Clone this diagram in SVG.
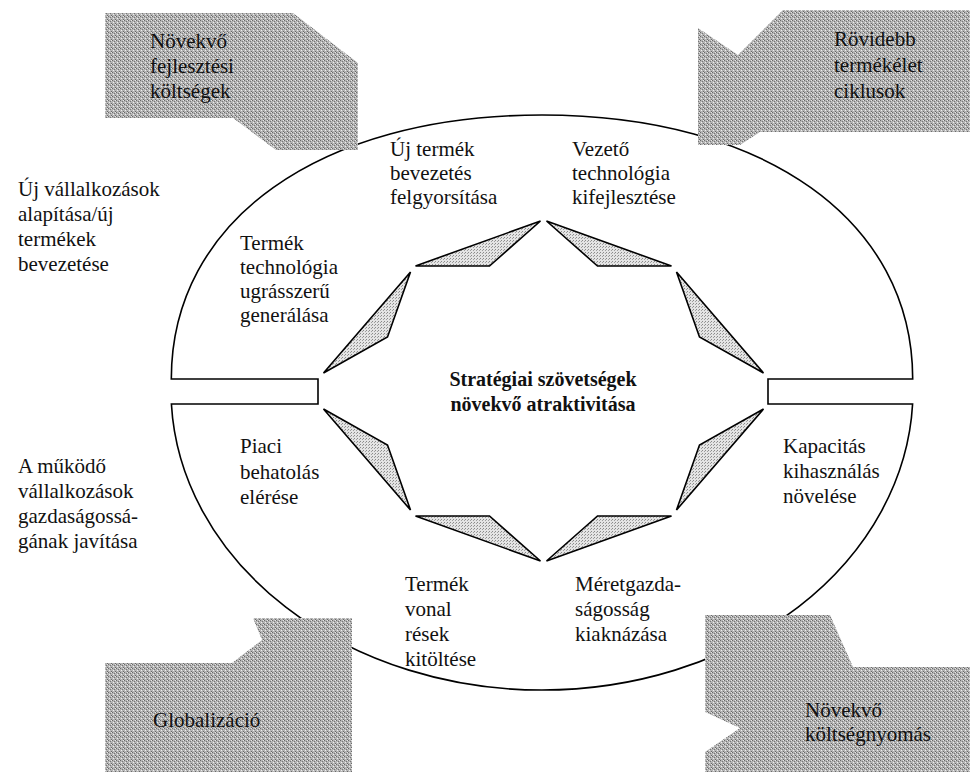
<svg xmlns="http://www.w3.org/2000/svg" width="970" height="772" viewBox="0 0 970 772">
<defs>
<pattern id="dark" width="4" height="4" patternUnits="userSpaceOnUse">
<rect width="4" height="4" fill="#b5b5b5"/>
<rect x="0" y="0" width="1" height="1" fill="#6a6a6a"/>
<rect x="2" y="1" width="1" height="1" fill="#767676"/>
<rect x="1" y="2" width="1" height="1" fill="#eeeeee"/>
<rect x="3" y="3" width="1" height="1" fill="#6a6a6a"/>
<rect x="3" y="0" width="1" height="1" fill="#e6e6e6"/>
</pattern>
<pattern id="light" width="3" height="3" patternUnits="userSpaceOnUse">
<rect width="3" height="3" fill="#e4e4e4"/>
<rect x="0" y="0" width="1" height="1" fill="#8a8a8a"/>
<rect x="2" y="1" width="1" height="1" fill="#a0a0a0"/>
</pattern>
</defs>
<style>
text{font-family:"Liberation Serif","DejaVu Serif","Times New Roman",serif;font-size:21px;fill:#111}
.b{font-weight:bold;font-size:20px;text-anchor:middle}
.corner{fill:url(#dark);stroke:none}
.kite{fill:url(#light);stroke:#000;stroke-width:1.6;stroke-linejoin:miter}
.ring{fill:none;stroke:#000;stroke-width:1.6}
</style>
<g id="connectors">
<path class="ring" d="M318,379 L171.3,379 C171.3,220.6 319.4,115 542,115 C764.6,115 912.7,220.6 912.7,379 L768,379 L768,404 L912.6,404 A371,300 0 0 1 171.4,404 L318,404 Z"/>
</g>
<g id="star">
<polygon class="kite" points="415.5,266 540.5,221 489.5,266"/>
<polygon class="kite" points="671.5,266 546.5,221 597.5,266"/>
<polygon class="kite" points="676.5,272 763.5,373 699.5,337"/>
<polygon class="kite" points="676.5,510 763.5,409 699.5,445"/>
<polygon class="kite" points="671.5,516 546.5,561 597.5,516"/>
<polygon class="kite" points="415.5,516 540.5,561 489.5,516"/>
<polygon class="kite" points="410.5,510 323.5,409 387.5,445"/>
<polygon class="kite" points="410.5,272 323.5,373 387.5,337"/>
</g>
<g id="tl">
<polygon class="corner" points="105,13 293,13 358,63 358,150 276,150 233,118 105,118"/>
<text x="150" y="48">Növekvő</text>
<text x="150" y="73">fejlesztési</text>
<text x="150" y="98">költségek</text>
</g>
<g id="tr">
<polygon class="corner" points="783,10 970,10 970,132 760,132 740,145 698,145 698,28 738,55"/>
<text x="834" y="46">Rövidebb</text>
<text x="834" y="72">termékélet</text>
<text x="834" y="98">ciklusok</text>
</g>
<g id="bl">
<polygon class="corner" points="105,772 105,663 232,663 262,640 253,618 352,618 352,772"/>
<text x="153" y="727">Globalizáció</text>
</g>
<g id="br">
<polygon class="corner" points="705,615 830,615 853,667 970,667 970,772 705,772 705,752 740,728 705,712"/>
<text x="805" y="717">Növekvő</text>
<text x="805" y="741">költségnyomás</text>
</g>
<g id="left-top">
<text x="18" y="196">Új vállalkozások</text>
<text x="18" y="221">alapítása/új</text>
<text x="18" y="246">termékek</text>
<text x="18" y="271">bevezetése</text>
</g>
<g id="left-bottom">
<text x="18" y="473">A működő</text>
<text x="18" y="498">vállalkozások</text>
<text x="18" y="523">gazdaságossá-</text>
<text x="18" y="548">gának javítása</text>
</g>
<g id="n-termek-tech">
<text x="240" y="250">Termék</text>
<text x="240" y="274">technológia</text>
<text x="240" y="298">ugrásszerű</text>
<text x="240" y="322">generálása</text>
</g>
<g id="n-uj-termek">
<text x="390" y="156">Új termék</text>
<text x="390" y="180">bevezetés</text>
<text x="390" y="204">felgyorsítása</text>
</g>
<g id="n-vezeto">
<text x="572" y="156">Vezető</text>
<text x="572" y="180">technológia</text>
<text x="572" y="204">kifejlesztése</text>
</g>
<g id="n-piaci">
<text x="240" y="453">Piaci</text>
<text x="240" y="479">behatolás</text>
<text x="240" y="504">elérése</text>
</g>
<g id="n-kapacitas">
<text x="783" y="453">Kapacitás</text>
<text x="783" y="478">kihasználás</text>
<text x="783" y="503">növelése</text>
</g>
<g id="n-termek-vonal">
<text x="405" y="591">Termék</text>
<text x="405" y="616">vonal</text>
<text x="405" y="641">rések</text>
<text x="405" y="666">kitöltése</text>
</g>
<g id="n-meret">
<text x="575" y="591">Méretgazda-</text>
<text x="575" y="616">ságosság</text>
<text x="575" y="641">kiaknázása</text>
</g>
<g id="center">
<text class="b" x="543" y="386">Stratégiai szövetségek</text>
<text class="b" x="543" y="411">növekvő atraktivitása</text>
</g>
</svg>
